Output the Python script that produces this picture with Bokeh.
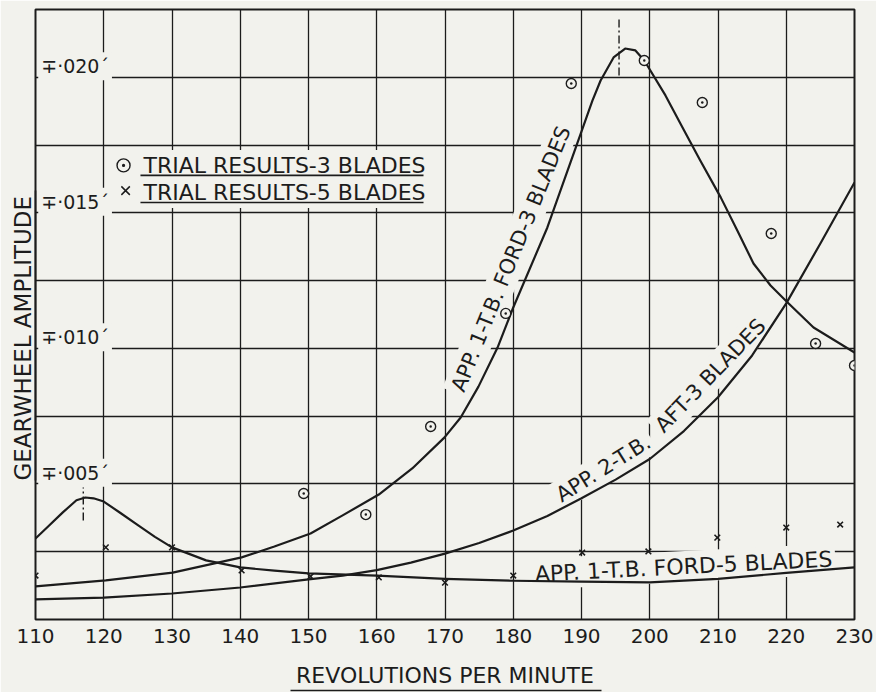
import math
from bokeh.plotting import figure
from bokeh.models import Range1d, FixedTicker, LinearAxis, Title
from bokeh.core.properties import value
from bokeh.embed import file_html
from bokeh.resources import INLINE

# ---------------- data ----------------
x_ticks = [110, 120, 130, 140, 150, 160, 170, 180, 190, 200, 210, 220, 230]
y_grid = [0.0, 0.0025, 0.005, 0.0075, 0.010, 0.0125, 0.015, 0.0175, 0.020, 0.0225]
y_label_vals = [0.005, 0.010, 0.015, 0.020]
y_label_text = ["∓·005´", "∓·010´", "∓·015´", "∓·020´"]

# APP. 1-T.B. FORD - 3 BLADES
rpm_a = [110, 120.3, 130.1, 140.2, 145, 150.3, 155, 160.3, 165.2, 169.9, 172.3, 174.9,
         177.7, 180.0, 185.0, 189.9, 191.6, 192.8, 194.7, 196.4, 197.9, 199.2, 202.3,
         204.8, 207.4, 210.4, 212.9, 215.2, 217.7, 220.2, 224.0, 230]
amp_a = [0.00122, 0.00144, 0.00173, 0.00229, 0.00269, 0.00317, 0.00384, 0.00461,
         0.00557, 0.00671, 0.00745, 0.00859, 0.01003, 0.01151, 0.01446, 0.01793,
         0.01914, 0.01988, 0.02073, 0.02106, 0.02099, 0.02062, 0.01933, 0.01815,
         0.01693, 0.01557, 0.01431, 0.01313, 0.01232, 0.01169, 0.01077, 0.00985]

# APP. 2-T.B. AFT - 3 BLADES
rpm_b = [110, 120, 130, 140, 150, 155, 160, 165, 170, 175, 180, 185, 190, 195, 200,
         205, 210, 215, 220, 225, 230]
amp_b = [0.00074, 0.00081, 0.00096, 0.00118, 0.00148, 0.00162, 0.00182, 0.00210,
         0.00243, 0.00282, 0.00328, 0.00382, 0.00447, 0.00516, 0.00592, 0.00695,
         0.00820, 0.00974, 0.01166, 0.01387, 0.01612]

# APP. 1-T.B. FORD - 5 BLADES
rpm_c = [110, 112, 114, 116, 117.3, 118.5, 120, 122.5, 125, 127.5, 130, 135, 140,
         145, 150, 160, 170, 180, 190, 200, 210, 220, 230]
amp_c = [0.00299, 0.00347, 0.00395, 0.00440, 0.00450, 0.00447, 0.00435, 0.00392,
         0.00348, 0.00305, 0.00266, 0.00218, 0.00192, 0.00180, 0.00170, 0.00162,
         0.00150, 0.00143, 0.00140, 0.00137, 0.00150, 0.00172, 0.00192]

# Trial results - 3 blades
trial3_rpm = [149.3, 158.4, 167.9, 178.9, 188.5, 199.2, 207.7, 217.8, 224.3, 230.0]
trial3_amp = [0.00465, 0.00387, 0.00712, 0.01129, 0.01977, 0.02062, 0.01907,
              0.01424, 0.01018, 0.00937]

# Trial results - 5 blades
trial5_rpm = [110, 120.3, 130, 140.2, 150.3, 160.3, 170, 180, 190.1, 199.8, 209.9,
              220, 227.9]
trial5_amp = [0.00162, 0.00266, 0.00266, 0.00181, 0.00159, 0.00155, 0.00136,
              0.00162, 0.00247, 0.00251, 0.00302, 0.00339, 0.00350]

# resonance markers (dash-dot verticals)
res_rpm = [117.0, 195.5]
res_lo = [0.00365, 0.02007]
res_hi = [0.00487, 0.02217]

# ---------------- styling ----------------
PAPER = "#f2f2ed"
INK = "#1c1c1c"
FONT = "DejaVu Sans"

p = figure(width=876, height=692, x_range=Range1d(110, 230), y_range=Range1d(0, 0.0225),
           output_backend="svg", toolbar_location=None,
           min_border_left=35, min_border_right=22, min_border_top=9, min_border_bottom=73)
p.background_fill_color = PAPER
p.border_fill_color = PAPER
p.outline_line_color = INK
p.outline_line_width = 2

# x axis: tick labels + title
xa = p.xaxis[0]
xa.ticker = FixedTicker(ticks=x_ticks)
xa.axis_line_color = None
xa.major_tick_line_color = None
xa.minor_tick_line_color = None
xa.major_tick_out = 0
xa.minor_tick_out = 0
xa.major_label_text_font = FONT
xa.major_label_text_font_size = "20px"
xa.major_label_text_color = INK
xa.major_label_standoff = 9
xa.axis_label = "REVOLUTIONS PER MINUTE"
xa.axis_label_text_font = FONT
xa.axis_label_text_font_size = "22px"
xa.axis_label_text_font_style = "normal"
xa.axis_label_text_color = INK
xa.axis_label_standoff = 17

# underline of the x title (a bounded axis line, no ticks)
ux = LinearAxis(ticker=FixedTicker(ticks=[]), bounds=(147.3, 193.0),
                axis_line_color=INK, axis_line_width=1.6,
                major_tick_line_color=None, minor_tick_line_color=None,
                major_tick_out=0, minor_tick_out=0, major_label_standoff=0,
                major_label_text_font_size="0px")
p.add_layout(ux, "below")

# y axis: only the underline of the title
ya = p.yaxis[0]
ya.ticker = FixedTicker(ticks=[])
ya.bounds = (0.00513, 0.01582)
ya.axis_line_color = INK
ya.axis_line_width = 1.6
ya.major_tick_line_color = None
ya.minor_tick_line_color = None
ya.major_tick_out = 0
ya.minor_tick_out = 0
ya.major_label_standoff = 0
ya.major_label_text_font_size = "0px"

# y title placed along the left side
p.add_layout(Title(text="GEARWHEEL AMPLITUDE", align="left", offset=139, standoff=0,
                   text_font=FONT, text_font_size="23px", text_font_style="normal",
                   text_color=INK), "left")

p.xgrid.ticker = FixedTicker(ticks=x_ticks)
p.ygrid.ticker = FixedTicker(ticks=y_grid)
for g in (p.xgrid, p.ygrid):
    g.grid_line_color = INK
    g.grid_line_width = 1.3
    g.grid_line_alpha = 1.0

txt = dict(text_font=value(FONT), text_color=INK, background_fill_color=PAPER, padding=3,
           text_baseline="middle")

# y value labels inside the frame
p.text(x=[110.4] * len(y_label_vals), y=[v + 0.00041 for v in y_label_vals], text=y_label_text,
       text_font_size=value("19px"), text_align="left", **txt)

# legend texts
p.text(x=[125.38, 125.38], y=[0.01675, 0.01575],
       text=["TRIAL RESULTS-3 BLADES", "TRIAL RESULTS-5 BLADES"],
       text_font_size=value("22px"), text_align="left", **txt)

# curve labels
p.text(x=[179.67], y=[0.0133], text=["APP. 1-T.B. FORD-3 BLADES"], angle=[math.radians(67.9)],
       text_font_size=value("21px"), text_align="center", **txt)
p.text(x=[193.2, 208.9], y=[0.00557, 0.00900], text=["APP. 2-T.B.", "AFT-3 BLADES"],
       angle=[math.radians(32.0), math.radians(46.0)],
       text_font_size=value("21px"), text_align="center", **txt)
p.text(x=[204.95], y=[0.00195], text=["APP. 1-T.B. FORD-5 BLADES"], angle=[math.radians(2.9)],
       text_font_size=value("22px"), text_align="center", **txt)

# curves
for xs, ys in ((rpm_a, amp_a), (rpm_b, amp_b), (rpm_c, amp_c)):
    p.line(xs, ys, line_color=INK, line_width=2.2, line_join="round")

p.segment(x0=res_rpm, y0=res_lo, x1=res_rpm, y1=res_hi, line_color=INK, line_width=1.4,
          line_dash="8 3 2 3")

# legend underlines
p.segment(x0=[125.38, 125.38], y0=[0.01638, 0.01538], x1=[166.85, 166.85], y1=[0.01638, 0.01538],
          line_color=INK, line_width=1.6)

# trial points
p.scatter(trial3_rpm, trial3_amp, marker="circle_dot", size=10, line_color=INK, line_width=1.4,
          fill_color=PAPER)
p.scatter(trial5_rpm, trial5_amp, marker="x", size=8, line_color=INK, line_width=1.6)

# legend symbols
p.scatter([122.9], [0.01675], marker="circle_dot", size=13, line_color=INK, line_width=1.4,
          fill_color=PAPER)
p.scatter([123.2], [0.01582], marker="x", size=12, line_color=INK, line_width=1.5)

open("out.html", "w").write(file_html(p, INLINE))
